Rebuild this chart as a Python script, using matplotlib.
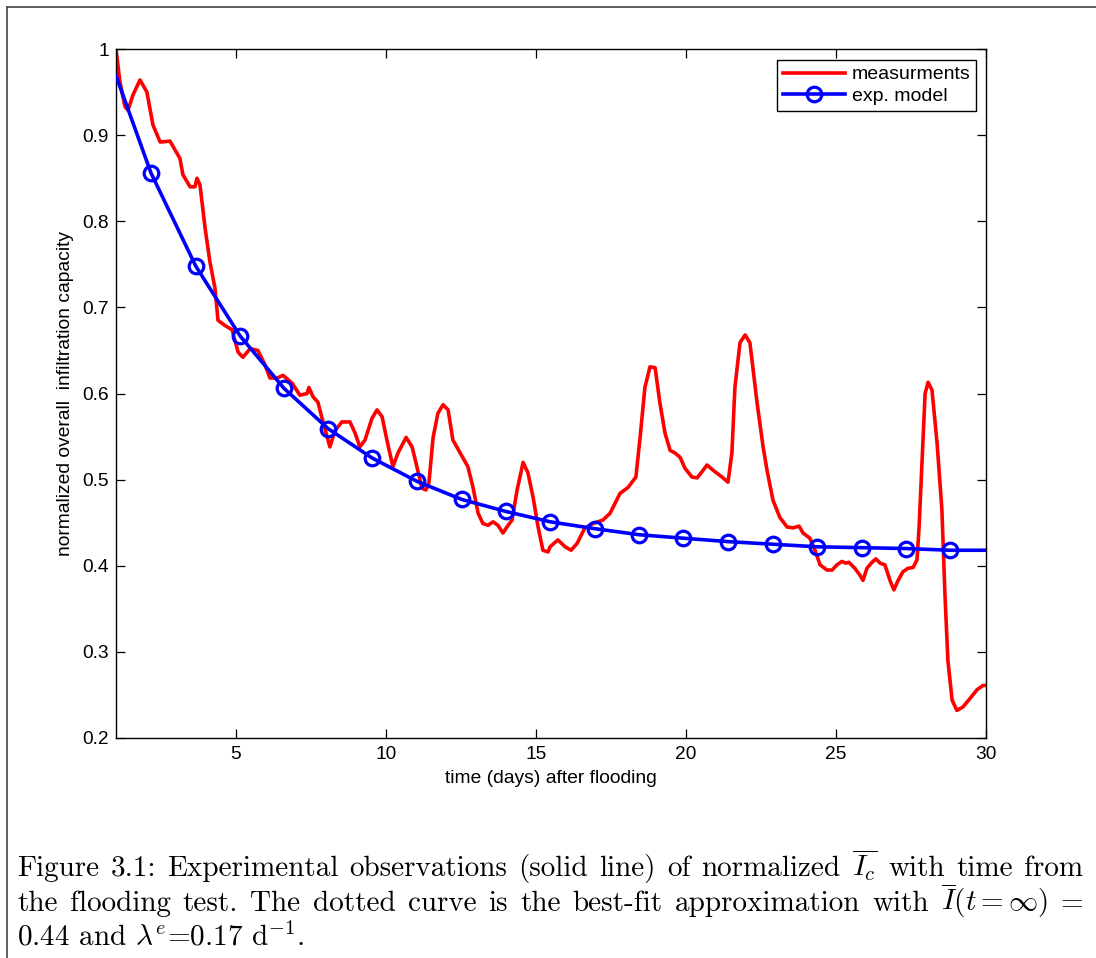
import matplotlib
matplotlib.use("Agg")
import matplotlib.pyplot as plt
from matplotlib.lines import Line2D

# ---------------- data ----------------
meas_t = [1.00, 1.13, 1.30, 1.40, 1.57, 1.80, 2.03, 2.23, 2.47, 2.80, 3.13, 3.23, 3.47, 3.63,
          3.70, 3.80, 3.97, 4.13, 4.30, 4.40, 4.63, 4.87, 5.07, 5.23, 5.47, 5.73, 5.97, 6.13,
          6.37, 6.57, 6.87, 7.13, 7.37, 7.43, 7.57, 7.73, 7.90, 8.13, 8.30, 8.53, 8.80, 8.97,
          9.13, 9.30, 9.53, 9.70, 9.87, 10.03, 10.23, 10.40, 10.67, 10.87, 11.03, 11.20, 11.33,
          11.43, 11.57, 11.73, 11.90, 12.07, 12.23, 12.47, 12.73, 12.90, 13.07, 13.23, 13.40,
          13.57, 13.73, 13.90, 14.03, 14.20, 14.37, 14.57, 14.73, 14.90, 15.07, 15.23, 15.40,
          15.47, 15.73, 15.97, 16.17, 16.37, 16.63, 16.90, 17.23, 17.47, 17.80, 18.07, 18.33,
          18.47, 18.63, 18.80, 18.97, 19.13, 19.30, 19.47, 19.63, 19.80, 19.97, 20.20, 20.37,
          20.53, 20.70, 20.90, 21.20, 21.40, 21.53, 21.63, 21.80, 21.97, 22.13, 22.37, 22.57,
          22.70, 22.90, 23.13, 23.37, 23.57, 23.77, 23.90, 24.13, 24.30, 24.47, 24.70, 24.87,
          25.03, 25.20, 25.33, 25.43, 25.63, 25.80, 25.90, 26.03, 26.20, 26.33, 26.47, 26.63,
          26.80, 26.93, 27.07, 27.23, 27.40, 27.57, 27.70, 27.77, 27.87, 27.97, 28.07, 28.20,
          28.37, 28.53, 28.63, 28.73, 28.87, 29.03, 29.23, 29.47, 29.70, 29.90, 30.00]
meas_y = [1.000, 0.962, 0.933, 0.929, 0.947, 0.964, 0.950, 0.912, 0.892, 0.893, 0.873, 0.854,
          0.840, 0.840, 0.850, 0.842, 0.792, 0.753, 0.722, 0.685, 0.679, 0.674, 0.648, 0.642,
          0.652, 0.650, 0.633, 0.618, 0.618, 0.621, 0.612, 0.598, 0.600, 0.607, 0.596, 0.590,
          0.567, 0.538, 0.557, 0.567, 0.567, 0.554, 0.538, 0.546, 0.571, 0.581, 0.573, 0.546,
          0.515, 0.531, 0.549, 0.538, 0.515, 0.490, 0.488, 0.496, 0.549, 0.577, 0.587, 0.581,
          0.546, 0.531, 0.515, 0.491, 0.461, 0.449, 0.447, 0.451, 0.447, 0.438, 0.445, 0.453,
          0.488, 0.520, 0.508, 0.480, 0.445, 0.418, 0.416, 0.422, 0.430, 0.422, 0.418, 0.426,
          0.444, 0.449, 0.453, 0.461, 0.484, 0.491, 0.503, 0.549, 0.607, 0.631, 0.630, 0.589,
          0.554, 0.534, 0.531, 0.526, 0.513, 0.503, 0.502, 0.509, 0.517, 0.511, 0.503, 0.497,
          0.531, 0.607, 0.659, 0.668, 0.659, 0.589, 0.538, 0.511, 0.476, 0.456, 0.445, 0.444,
          0.446, 0.438, 0.432, 0.418, 0.401, 0.395, 0.395, 0.401, 0.405, 0.403, 0.404, 0.397,
          0.389, 0.383, 0.397, 0.404, 0.408, 0.403, 0.401, 0.383, 0.372, 0.383, 0.393, 0.397,
          0.398, 0.407, 0.445, 0.523, 0.600, 0.613, 0.604, 0.542, 0.465, 0.368, 0.290, 0.244,
          0.232, 0.236, 0.246, 0.256, 0.261, 0.261]

model_t = [1.0, 2.167, 3.657, 5.133, 6.600, 8.077, 9.543, 11.033, 12.523, 14.000, 15.477,
           16.967, 18.443, 19.910, 21.410, 22.890, 24.377, 25.857, 27.333, 28.800, 30.0]
model_y = [0.969, 0.856, 0.748, 0.667, 0.606, 0.559, 0.525, 0.498, 0.477, 0.463, 0.451,
           0.443, 0.436, 0.432, 0.428, 0.425, 0.422, 0.421, 0.420, 0.418, 0.418]

x_ticks = [5, 10, 15, 20, 25, 30]
y_ticks = [0.2, 0.3, 0.4, 0.5, 0.6, 0.7, 0.8, 0.9, 1.0]
y_tick_labels = ["0.2", "0.3", "0.4", "0.5", "0.6", "0.7", "0.8", "0.9", "1"]

series_labels = ["measurments", "exp. model"]
x_label = "time (days) after flooding"
y_label = "normalized overall  infiltration capacity"

caption_line1 = ["Figure", "3.1:", "Experimental", "observations", "(solid", "line)", "of",
                 "normalized", r"$\overline{I_c}$", "with", "time", "from"]
caption_line2 = ["the", "flooding", "test.", "The", "dotted", "curve", "is", "the", "best-fit",
                 "approximation", "with", r"$\overline{I}(t=\infty)$", "="]
caption_line3 = r"0.44 and $\lambda^e$=0.17 d$^{-1}$."

# ---------------- style ----------------
plt.rcParams["font.family"] = ["Liberation Sans", "DejaVu Sans"]
plt.rcParams["mathtext.fontset"] = "cm"

W, H = 1096, 958
fig = plt.figure(figsize=(W / 100, H / 100), dpi=100)
ax = fig.add_axes([116 / W, 1 - 738 / H, 870 / W, 689 / H])

ax.plot(meas_t, meas_y, color="#ff0000", lw=2.6, label=series_labels[0], zorder=2,
        solid_joinstyle="round")
ax.plot(model_t, model_y, color="#0000ff", lw=2.6, marker="o", markersize=10.5,
        markerfacecolor="none", markeredgewidth=2.3, markeredgecolor="#0000ff",
        markevery=list(range(1, len(model_t) - 1)), label=series_labels[1], zorder=3)

ax.set_xlim(1, 30)
ax.set_ylim(0.2, 1.0)
ax.set_xticks(x_ticks)
ax.set_xticklabels([str(v) for v in x_ticks])
ax.set_yticks(y_ticks)
ax.set_yticklabels(y_tick_labels)
ax.tick_params(direction="in", length=6.5, width=0.9, top=True, right=True,
               labelsize=13.8, colors="black")
ax.tick_params(axis="x", pad=6)
ax.tick_params(axis="y", pad=5)
for s in ax.spines.values():
    s.set_linewidth(1.0)
    s.set_color("black")

ax.set_xlabel(x_label, fontsize=13.9, labelpad=5)
ax.set_ylabel(y_label, fontsize=13.9, labelpad=6)

leg = ax.legend(loc="upper right", bbox_to_anchor=(0.989, 0.984), fontsize=14,
                frameon=True, fancybox=False, framealpha=1, edgecolor="black",
                borderpad=0.3, labelspacing=0.2, handlelength=3.2, handletextpad=0.35,
                borderaxespad=0.0, numpoints=1)
leg.get_frame().set_linewidth(1.0)

# outer frame (left and top edges)
fig.add_artist(Line2D([7 / W, 7 / W], [0, 1 - 7 / H], transform=fig.transFigure,
                      color="#444444", lw=1.2))
fig.add_artist(Line2D([7 / W, 1], [1 - 7 / H, 1 - 7 / H], transform=fig.transFigure,
                      color="#444444", lw=1.2))

# caption (justified lines)
cap_size = 21
cap_kw = dict(fontsize=cap_size, family="cmr10", va="baseline", ha="left")
renderer = fig.canvas.get_renderer()


def justify(words, y_px, x0_px, x1_px):
    texts = [fig.text(0, 1 - y_px / H, w, **cap_kw) for w in words]
    widths = [t.get_window_extent(renderer).width for t in texts]
    gap = (x1_px - x0_px - sum(widths)) / (len(words) - 1)
    x = x0_px
    for t, w in zip(texts, widths):
        t.set_x(x / W)
        x += w + gap


justify(caption_line1, 876, 17, 1083)
justify(caption_line2, 911, 17, 1083)
fig.text(17 / W, 1 - 946 / H, caption_line3, **cap_kw)

fig.savefig("out.png", dpi=100)
